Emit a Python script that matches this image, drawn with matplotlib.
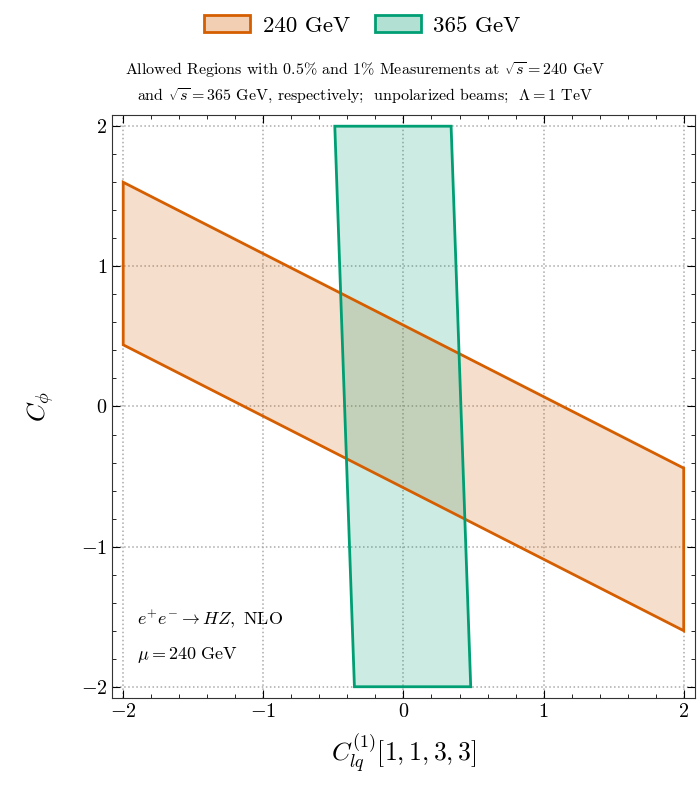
import numpy as np
import matplotlib
matplotlib.use('Agg')
import matplotlib.pyplot as plt
from matplotlib.patches import Polygon, Patch
from matplotlib.ticker import MultipleLocator

plt.rcParams['font.family'] = 'serif'
plt.rcParams['font.serif'] = ['cmr10']
plt.rcParams['mathtext.fontset'] = 'cm'
plt.rcParams['axes.formatter.use_mathtext'] = True
plt.rcParams['axes.unicode_minus'] = True

# allowed region corners (C_lq, C_phi)
x_240 = [-2.0, 2.0, 2.0, -2.0]
y_240 = [1.6, -0.44, -1.6, 0.44]
x_365 = [-0.49, 0.34, 0.48, -0.35]
y_365 = [2.0, 2.0, -2.0, -2.0]
labels = ['240 GeV', '365 GeV']
colors = ['#D55E00', '#009E73']
ticks = [-2, -1, 0, 1, 2]

fig = plt.figure(figsize=(6.97, 7.86), dpi=100)
ax = fig.add_axes([0.1607, 0.112, 0.8363, 0.7417])

for xs, ys, c in [(x_240, y_240, colors[0]), (x_365, y_365, colors[1])]:
    pts = np.column_stack([xs, ys])
    ax.add_patch(Polygon(pts, closed=True, facecolor=c, alpha=0.2, edgecolor='none', zorder=2))
    ax.add_patch(Polygon(pts, closed=True, facecolor='none', edgecolor=c, lw=2.0, zorder=3))

ax.set_xlim(-2.08, 2.08)
ax.set_ylim(-2.08, 2.08)
ax.set_xticks(ticks)
ax.set_yticks(ticks)
ax.xaxis.set_minor_locator(MultipleLocator(0.2))
ax.yaxis.set_minor_locator(MultipleLocator(0.2))
ax.tick_params(which='both', direction='in', top=True, right=True, labelsize=14.5)
ax.tick_params(which='major', length=6, width=0.8)
ax.tick_params(which='minor', length=3, width=0.6)
for s in ax.spines.values():
    s.set_color('#333333')
ax.set_axisbelow(True)
ax.grid(True, which='major', ls=':', color='#aaaaaa', lw=1.1)

ax.set_xlabel(r'$C_{lq}^{(1)}[1,1,3,3]$', fontsize=18.5, labelpad=8)
ax.set_ylabel(r'$C_{\phi}$', fontsize=18.5, labelpad=18)

ax.text(-1.90, -1.52, r'$e^{+}e^{-}\rightarrow HZ,\ \mathrm{NLO}$', fontsize=13, va='center')
ax.text(-1.90, -1.77, r'$\mu = 240\ \mathrm{GeV}$', fontsize=13, va='center')

fig.text(0.524, 0.894,
         'Allowed Regions with 0.5% and 1% Measurements at $\\sqrt{s}=240$ GeV\n'
         'and $\\sqrt{s}=365$ GeV, respectively;  unpolarized beams;  $\\Lambda=1$ TeV',
         ha='center', va='center', fontsize=11.5, linespacing=1.5)

handles = [Patch(facecolor=matplotlib.colors.to_rgba(c, 0.3), edgecolor=c, lw=2.0) for c in colors]
fig.legend(handles, labels, loc='center', bbox_to_anchor=(0.52, 0.968), ncol=2,
           frameon=False, fontsize=16.5, handlelength=2.0, handleheight=0.8,
           handletextpad=0.55, columnspacing=1.1)

fig.savefig('out.png', dpi=100)
